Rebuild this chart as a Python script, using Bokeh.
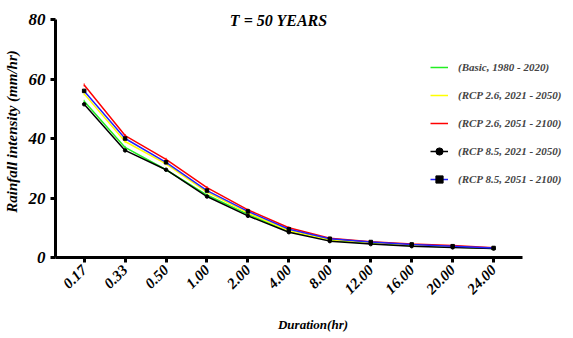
from bokeh.plotting import figure
from bokeh.models import Range1d, FixedTicker, Legend, LegendItem, Label
from bokeh.embed import file_html
from bokeh.resources import INLINE

durations = ["0.17", "0.33", "0.50", "1.00", "2.00", "4.00", "8.00", "12.00", "16.00", "20.00", "24.00"]
basic = [52.5, 37.0, 29.5, 21.0, 14.5, 8.8, 5.8, 4.7, 4.0, 3.5, 3.0]
rcp26_2050 = [55.0, 39.0, 31.5, 22.0, 15.0, 9.0, 6.0, 5.0, 4.2, 3.6, 3.1]
rcp26_2100 = [58.0, 41.0, 33.0, 23.5, 16.0, 10.0, 6.5, 5.3, 4.5, 4.0, 3.3]
rcp85_2050 = [51.5, 36.0, 29.5, 20.5, 14.0, 8.5, 5.5, 4.5, 3.8, 3.4, 3.0]
rcp85_2100 = [56.0, 40.0, 32.0, 22.5, 15.5, 9.5, 6.3, 5.2, 4.4, 3.8, 3.2]

series = [
    ("(Basic, 1980 - 2020)", basic, "#22ee22", None),
    ("(RCP 2.6, 2021 - 2050)", rcp26_2050, "#ffff00", None),
    ("(RCP 2.6, 2051 - 2100)", rcp26_2100, "#ff0000", None),
    ("(RCP 8.5, 2021 - 2050)", rcp85_2050, "#000000", "circle"),
    ("(RCP 8.5, 2051 - 2100)", rcp85_2100, "#2222ff", "square"),
]

FONT = "Liberation Serif"

# frame: left 48 .. right 570, top 5 .. bottom 257 ; 41.5 px per category, 2.975 px per unit
p = figure(width=573, height=338, output_backend="svg", toolbar_location=None,
           x_range=Range1d(-0.7, -0.7 + 522 / 41.5), y_range=Range1d(0, 80 + 14 / 2.975),
           min_border_left=48, min_border_right=3, min_border_top=5, min_border_bottom=81)
p.outline_line_color = None
p.xgrid.visible = False
p.ygrid.visible = False
p.background_fill_color = None

xs = list(range(len(durations)))
items = []
for name, vals, col, mk in series:
    r = p.line(xs, vals, line_color=col, line_width=1.5)
    rs = [r]
    if mk == "circle":
        rs.append(p.scatter(xs, vals, marker="circle", size=3.5, color=col))
    elif mk == "square":
        rs.append(p.scatter(xs, vals, marker="square", size=3.5, color="black"))
    else:
        rs.append(p.scatter(xs, vals, marker="dash", size=3, color=col, angle=1.5708))
    items.append(LegendItem(label=name, renderers=rs))

for ax in (p.xaxis[0], p.yaxis[0]):
    ax.axis_line_width = 3
    ax.axis_line_color = "black"
    ax.major_tick_line_width = 3
    ax.major_tick_out = 5
    ax.major_tick_in = 0
    ax.minor_tick_line_color = None
    ax.major_label_text_font = FONT
    ax.major_label_text_font_style = "bold italic"
    ax.major_label_text_color = "black"
    ax.axis_label_text_font = FONT
    ax.axis_label_text_font_style = "bold italic"
    ax.axis_label_text_color = "black"
    ax.axis_label_text_font_size = "13px"

p.yaxis.ticker = FixedTicker(ticks=[0, 20, 40, 60, 80])
p.yaxis.bounds = (0, 80)
p.yaxis.major_label_text_font_size = "17px"
p.yaxis.axis_label = "Rainfall intensity (mm/hr)"
p.yaxis.axis_label_text_font_size = "15px"
p.yaxis.axis_label_standoff = 6

p.xaxis.ticker = FixedTicker(ticks=xs)
p.xaxis.bounds = (-0.7, len(durations) - 0.3)
p.xaxis.major_label_overrides = {i: d for i, d in enumerate(durations)}
p.xaxis.major_label_orientation = 0.785
p.xaxis.major_label_text_font_size = "15px"
p.xaxis.axis_label = "Duration(hr)"
p.xaxis.axis_label_standoff = 16

p.add_layout(Label(x=4.75, y=79.5, text="T = 50 YEARS", text_font=FONT,
                   text_font_style="bold italic", text_font_size="16px",
                   text_align="center", text_baseline="middle", text_color="black"))

legend = Legend(items=items, location=(375, 68), border_line_color=None,
                background_fill_alpha=0, padding=0, spacing=8, glyph_width=18,
                label_height=20, glyph_height=20, label_standoff=10,
                label_text_font=FONT, label_text_font_style="bold italic",
                label_text_font_size="11px")
p.add_layout(legend)

open("out.html", "w").write(file_html(p, INLINE))
